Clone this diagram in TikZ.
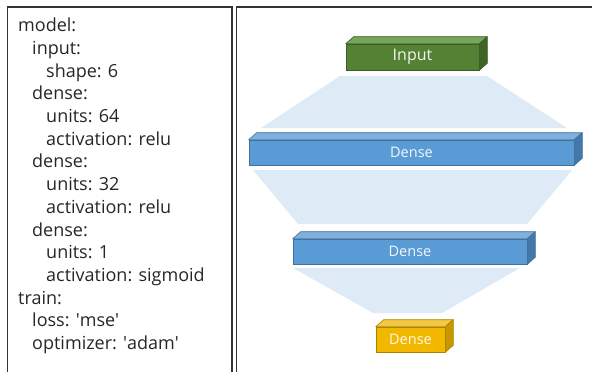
\documentclass[tikz,border=0pt]{standalone}
\usepackage{fontspec}
\setmainfont{Open Sans}
\usetikzlibrary{calc}
\definecolor{greenF}{HTML}{548235}
\definecolor{greenT}{HTML}{77A55A}
\definecolor{greenS}{HTML}{3F6428}
\definecolor{greenL}{HTML}{3B5E26}
\definecolor{blueF}{HTML}{5B9BD5}
\definecolor{blueT}{HTML}{7EB0E0}
\definecolor{blueS}{HTML}{4478A8}
\definecolor{blueL}{HTML}{41719C}
\definecolor{yellowF}{HTML}{F2B800}
\definecolor{yellowT}{HTML}{F5C842}
\definecolor{yellowS}{HTML}{C99700}
\definecolor{yellowL}{HTML}{A88400}
\definecolor{funnel}{HTML}{DEEAF6}
\definecolor{frame}{HTML}{333333}
\newcommand{\q}{\textquotesingle}
\tikzset{
  layer/.style={draw=#1L, fill=#1F, line width=0.6pt, inner sep=0pt,
    text=white!92!#1F, font=\fontsize{14.5}{16}\selectfont},
  face/.style={draw=#1L, line width=0.6pt, line join=round},
  cfg/.style={anchor=base west, inner sep=0pt, text=black!85,
    font=\fontsize{18}{20}\selectfont},
}
\begin{document}
\begin{tikzpicture}[x=1pt,y=-1pt]
\useasboundingbox (0,0) rectangle (592,372);
% panels
\draw[frame, line width=1.4pt] (7.5,380) -- (7.5,7) -- (232,7) -- (232,380);
\draw[frame, line width=1.4pt] (236.5,380) -- (236.5,7) -- (600,7);
% config text
\foreach \i/\d/\t in {0/0/model:, 1/1/input:, 2/2/shape: 6, 3/1/dense:,
    4/2/units: 64, 5/2/activation: relu, 6/1/dense:, 7/2/units: 32,
    8/2/activation: relu, 9/1/dense:, 10/2/units: 1,
    11/2/activation: sigmoid, 12/0/train:, 13/1/loss: \q mse\q,
    14/1/optimizer: \q adam\q}
  \node[cfg] (line\i) at (18+\d*14, 31.7+\i*22.7) {\t};
% funnels
\fill[funnel] (340,76) -- (487,76) -- (567,128) -- (261,128) -- cycle;
\fill[funnel] (253,170) -- (572,170) -- (527,224) -- (298,224) -- cycle;
\fill[funnel] (293,268) -- (520,268) -- (442,313) -- (373,313) -- cycle;
% layers
\node[layer=green, minimum width=133pt, minimum height=26pt,
  font=\fontsize{16}{18}\selectfont] (input) at (412.5,57) {Input};
\node[layer=blue, minimum width=325pt, minimum height=25pt] (dense1) at (411.5,152.5) {Dense};
\node[layer=blue, minimum width=234pt, minimum height=25pt] (dense2) at (410,251.5) {Dense};
\node[layer=yellow, minimum width=69pt, minimum height=25pt] (dense3) at (410.5,339.5) {Dense};
\foreach \n/\c in {input/green, dense1/blue, dense2/blue, dense3/yellow}{
  \filldraw[face=\c, fill=\c T] (\n.north west) -- ++(8,-7) -- ($(\n.north east)+(8,-7)$)
    -- (\n.north east) -- cycle;
  \filldraw[face=\c, fill=\c S] (\n.north east) -- ++(8,-7) -- ($(\n.south east)+(8,-7)$)
    -- (\n.south east) -- cycle;
}
\end{tikzpicture}
\end{document}
